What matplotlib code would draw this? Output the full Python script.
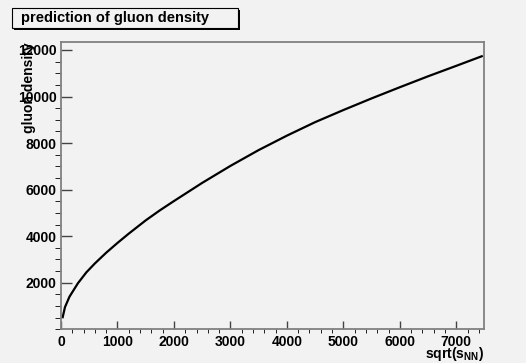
import matplotlib
matplotlib.use('Agg')
import matplotlib.pyplot as plt
from matplotlib.patches import Rectangle
from matplotlib.ticker import MultipleLocator

# values
sqrt_s = [30, 70, 150, 300, 450, 600, 800, 1000, 1200, 1500, 1750, 2000, 2500,
          3000, 3500, 4000, 4500, 5000, 5500, 6000, 6500, 7000, 7450]
gluon_density = [520, 950, 1400, 1980, 2450, 2830, 3290, 3710, 4110, 4680, 5110, 5510, 6290,
                 7020, 7700, 8320, 8900, 9420, 9920, 10400, 10870, 11320, 11730]

title = "prediction of gluon density"
x_ticks = [0, 1000, 2000, 3000, 4000, 5000, 6000, 7000]
y_ticks = [2000, 4000, 6000, 8000, 10000, 12000]

plt.rcParams['font.family'] = ['Liberation Sans', 'DejaVu Sans']
plt.rcParams['mathtext.fontset'] = 'custom'
plt.rcParams['mathtext.rm'] = 'Liberation Sans:bold'
plt.rcParams['mathtext.bf'] = 'Liberation Sans:bold'

bg = '#f2f2f2'
W, H = 526, 363
fig = plt.figure(figsize=(W / 100, H / 100), dpi=100, facecolor=bg)

ax = fig.add_axes([61 / W, 1 - 329.3 / H, (484 - 61) / W, (329.3 - 42.3) / H])
ax.set_facecolor(bg)
ax.plot(sqrt_s, gluon_density, color='black', lw=1.6)

ax.set_xlim(0, 7490)
ax.set_ylim(0, 12330)
ax.set_xticks(x_ticks)
ax.set_yticks(y_ticks)
ax.xaxis.set_minor_locator(MultipleLocator(200))
ax.yaxis.set_minor_locator(MultipleLocator(500))
ax.tick_params(axis='both', direction='in', colors='#444444', labelcolor='black',
               labelsize=10, width=1)
ax.tick_params(axis='x', which='major', length=6, pad=4)
ax.tick_params(axis='x', which='minor', length=3)
ax.tick_params(axis='y', which='major', length=8, pad=3)
ax.tick_params(axis='y', which='minor', length=4)
for lab in ax.get_xticklabels() + ax.get_yticklabels():
    lab.set_fontweight('bold')

for s in ax.spines.values():
    s.set_color('#808080')
    s.set_linewidth(1.3)

ax.set_xlabel(r'$\mathbf{sqrt(s_{NN})}$', fontsize=10, loc='right', labelpad=-3)
ax.set_ylabel('gluon density', fontsize=10, fontweight='bold', loc='top', labelpad=-13)

# title pave with shadow
x0, x1 = 11.7 / W, 237.7 / W
y0, y1 = 1 - 28.3 / H, 1 - 8.3 / H
fig.patches.append(Rectangle((x0 + 2 / W, y0 - 2 / H), x1 - x0, y1 - y0,
                             transform=fig.transFigure, facecolor='black',
                             edgecolor='none', zorder=1))
fig.patches.append(Rectangle((x0, y0), x1 - x0, y1 - y0, transform=fig.transFigure,
                             facecolor=bg, edgecolor='black', lw=0.8, zorder=2))
fig.text(21 / W, (y0 + y1) / 2, title, fontsize=10.5, fontweight='bold',
         ha='left', va='center', zorder=3)

fig.savefig('out.png', dpi=100, facecolor=bg)
